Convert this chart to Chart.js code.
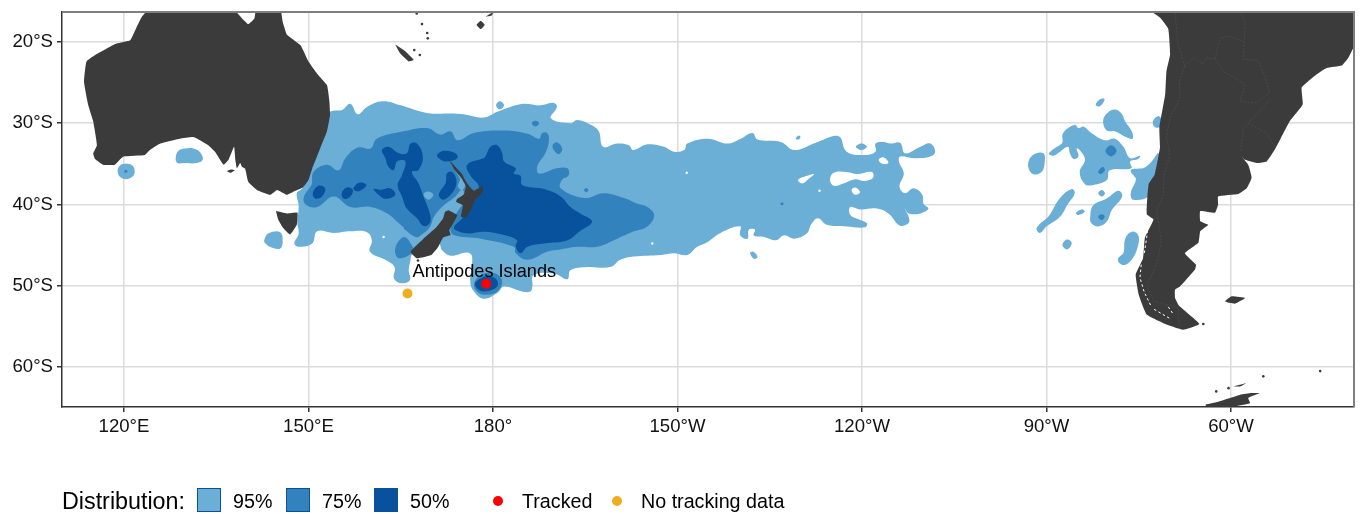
<!DOCTYPE html>
<html>
<head>
<meta charset="utf-8">
<title>Antipodes Islands distribution</title>
<script src="https://cdn.jsdelivr.net/npm/chart.js@4"></script>
<style>
html, body { margin: 0; background: #fff; overflow: hidden; }
#wrap { position: relative; width: 1361px; height: 514px; font-family: "Liberation Sans", Arial, sans-serif; color: #000; }
canvas { position: absolute; left: 0; top: 0; }
.lg { position: absolute; white-space: nowrap; line-height: 24px; height: 24px; top: 489px; font-size: 19.7px; }
.sw { position: absolute; top: 488px; width: 22px; height: 22px; border: 1.5px solid #08519c; }
.dot { position: absolute; top: 496px; width: 10px; height: 10px; border-radius: 50%; }
</style>
</head>
<body>
<div id="wrap">
<canvas id="map" width="1361" height="514"></canvas>
<div id="legend"></div>
</div>
<script>
// lon runs on past 180 so the Pacific stays in one piece (210 = 150W, 300 = 60W)
const lonTicks = [120, 150, 180, 210, 240, 270, 300];
const lonLabels = ['120°E', '150°E', '180°', '150°W', '120°W', '90°W', '60°W'];
const latTicks = [-60, -50, -40, -30, -20];
const latLabels = ['60°S', '50°S', '40°S', '30°S', '20°S'];

const tracked = [[178.9, -49.75]];
const noTracking = [[166.1, -50.95]];
const colonyName = 'Antipodes Islands';
const colonyLabelAt = [178.6, -48.3];

const legendTitle = 'Distribution:';
const levelLabels = ['95%', '75%', '50%'];
const levelColours = ['#6baed6', '#3182bd', '#08519c'];
const landColour = '#3b3b3b';

// 95% contour
const main95 = [[153.5,-28.6],[155.4,-28.4],[156.8,-27.6],[158.0,-28.9],[159.5,-28.0],[162.0,-27.3],[165.0,-27.8],[167.9,-28.5],[169.8,-28.8],[173.1,-28.8],[175.2,-28.9],[178.5,-29.3],[180.7,-28.6],[182.8,-28.0],[185.0,-27.6],[187.7,-27.8],[189.9,-27.5],[190.4,-28.0],[189.4,-29.4],[192.6,-30.0],[193.7,-29.6],[195.9,-30.2],[197.2,-31.0],[197.9,-32.9],[200.2,-32.5],[202.1,-32.7],[202.8,-33.3],[205.1,-32.6],[207.8,-32.9],[209.4,-33.5],[211.1,-33.3],[211.6,-32.5],[214.9,-31.9],[218.1,-32.5],[220.3,-31.9],[222.2,-31.2],[223.0,-32.0],[226.8,-32.3],[229.0,-33.3],[232.8,-32.3],[236.2,-31.6],[237.5,-33.5],[240.3,-33.9],[242.2,-33.5],[242.2,-32.5],[243.5,-32.3],[244.6,-32.5],[246.2,-32.4],[247.0,-33.7],[249.5,-32.9],[251.1,-32.5],[251.9,-33.5],[251.1,-34.1],[248.4,-34.3],[246.2,-34.1],[246.0,-34.7],[246.8,-36.2],[246.1,-37.8],[247.0,-38.6],[248.4,-38.0],[249.8,-38.8],[250.0,-39.9],[250.8,-40.5],[249.5,-41.1],[247.6,-41.1],[247.0,-40.5],[247.7,-42.1],[246.2,-42.6],[244.3,-41.1],[242.4,-40.5],[239.7,-40.6],[238.1,-40.3],[238.1,-41.3],[239.7,-41.9],[240.8,-42.3],[240.5,-42.8],[237.5,-42.7],[234.3,-42.5],[232.8,-41.7],[231.7,-42.5],[231.1,-43.5],[229.0,-44.2],[227.3,-43.8],[226.0,-44.4],[224.1,-44.0],[222.4,-43.8],[222.6,-43.1],[221.6,-43.1],[221.4,-44.2],[220.2,-43.8],[220.2,-42.7],[217.0,-43.5],[214.9,-44.6],[213.2,-45.2],[211.6,-46.2],[209.4,-46.0],[207.3,-46.2],[202.9,-46.4],[200.7,-46.8],[199.1,-47.7],[195.3,-47.7],[192.6,-48.1],[192.1,-49.2],[189.9,-48.5],[186.6,-48.7],[186.4,-50.1],[186.1,-50.7],[184.7,-50.7],[181.8,-50.1],[180.7,-50.9],[178.5,-51.6],[176.9,-50.7],[176.3,-49.5],[176.6,-46.4],[175.8,-45.9],[173.1,-46.3],[171.7,-45.6],[171.2,-44.8],[169.3,-45.6],[166.8,-46.2],[166.6,-46.8],[166.3,-48.1],[166.5,-49.3],[165.2,-49.7],[163.9,-49.1],[164.0,-47.7],[162.5,-46.8],[160.0,-45.8],[160.3,-44.4],[159.5,-43.4],[156.8,-43.3],[154.1,-43.5],[151.4,-43.3],[150.6,-44.8],[148.4,-45.2],[147.7,-44.8],[148.4,-43.6],[148.2,-42.3],[148.4,-40.1],[148.1,-38.6],[149.0,-38.0],[150.0,-36.0],[151.9,-32.5],[153.0,-29.6]];
const bight95 = [[128.4,-34.3],[128.85,-33.4],[129.9,-33.1],[131.3,-33.1],[132.4,-33.6],[132.8,-34.5],[131.8,-34.9],[129.7,-34.9],[128.7,-34.9]];
const capeLeeuwin95 = [[118.97,-35.9],[119.35,-35.2],[120.3,-35.0],[121.36,-35.2],[121.74,-35.9],[121.36,-36.6],[120.3,-36.9],[119.35,-36.6]];
const tasWest95 = [[142.8,-44.4],[143.5,-43.55],[145.4,-43.4],[145.8,-44.6],[145.4,-45.4],[144.0,-45.3],[143.0,-44.8]];
const north95 = [[180.5,-27.8],[181.1,-27.3],[181.8,-27.8],[181.1,-28.3]];
const south95 = [[221.8,-46.0],[222.3,-45.8],[223.0,-46.4],[222.5,-46.7]];
const fleck95 = [[229.2,-31.9],[229.7,-31.5],[230.0,-31.7],[229.7,-32.0]];
const oval95 = [[239.0,-32.9],[239.9,-32.5],[240.8,-32.9],[239.9,-33.3]];
const east95a = [[270.4,-33.7],[272.5,-32.5],[272.7,-31.2],[274.6,-30.2],[275.2,-30.6],[276.0,-30.4],[277.3,-31.2],[279.5,-32.1],[281.1,-31.9],[282.5,-32.9],[283.6,-34.3],[285.2,-34.0],[284.9,-34.4],[283.6,-34.7],[283.8,-35.55],[280.3,-35.8],[279.8,-37.0],[277.6,-37.6],[276.25,-37.5],[275.4,-36.0],[276.25,-34.5],[275.4,-33.3],[274.9,-33.1],[275.2,-34.1],[274.4,-34.4],[273.8,-33.7],[273.5,-32.9],[272.2,-33.5],[271.1,-34.0]];
const east95b = [[279.2,-29.8],[279.8,-28.8],[281.1,-28.3],[282.2,-28.8],[282.8,-29.8],[283.85,-31.0],[284.0,-31.9],[282.8,-31.65],[281.1,-31.0],[279.8,-30.9]];
const east95c = [[278.0,-27.75],[278.7,-27.05],[279.45,-27.05],[278.7,-27.9]];
const east95d = [[267.0,-35.1],[267.8,-33.9],[269.5,-33.7],[269.7,-34.9],[269.2,-36.0],[267.8,-36.25]];
const east95e = [[287.3,-29.8],[288.2,-29.1],[288.7,-29.6],[288.5,-30.4],[287.65,-30.5]];
const east95f = [[283.7,-35.8],[285.7,-35.55],[287.1,-34.7],[288.2,-33.7],[288.2,-35.8],[286.6,-37.8],[286.6,-39.0],[284.1,-39.4],[283.7,-38.6],[284.55,-36.8]];
const east95g = [[268.4,-42.9],[270.3,-41.5],[272.2,-39.2],[274.1,-38.1],[274.6,-38.6],[273.5,-39.9],[272.2,-41.5],[270.0,-42.7],[268.9,-43.5]];
const east95h = [[274.8,-41.0],[275.7,-40.6],[276.2,-40.9],[275.2,-41.3]];
const east95i = [[278.4,-38.6],[279.0,-38.2],[279.5,-38.6],[279.0,-39.0]];
const east95j = [[277.1,-41.7],[277.6,-40.1],[279.8,-39.25],[281.7,-38.3],[282.3,-39.0],[280.6,-40.7],[279.8,-42.1],[278.4,-42.7],[277.3,-42.3]];
const east95k = [[272.6,-45.0],[273.3,-44.3],[274.1,-44.7],[273.4,-45.5]];
const east95l = [[281.6,-46.8],[282.5,-46.0],[282.8,-44.2],[283.85,-43.35],[284.9,-43.75],[284.9,-45.0],[283.85,-46.8],[282.5,-47.45]];

// gaps in the 95% contour
const gapA = [[242.7,-34.5],[243.5,-34.2],[244.3,-34.9],[243.3,-35.0]];
const gapB = [[234.8,-37.0],[235.4,-36.1],[237.5,-36.0],[239.2,-36.25],[241.6,-36.0],[241.8,-36.7],[240.3,-37.1],[238.9,-36.9],[237.0,-37.4],[235.4,-37.7]];
const gapC = [[229.6,-37.0],[230.9,-36.5],[232.2,-36.25],[231.4,-36.8],[230.3,-37.4]];
const gapD = [[238.3,-38.2],[238.9,-37.9],[239.7,-38.5],[238.9,-38.8]];
const gapDots = [[233.1,-38.3],[205.9,-44.8],[211.5,-36.1],[162.2,-44.0]];

// 75% contour
const main75 = [[149.2,-39.2],[150.5,-37.6],[150.8,-36.0],[153.0,-35.1],[154.9,-35.8],[156.0,-34.3],[158.0,-33.0],[160.1,-33.1],[161.1,-31.9],[165.5,-31.0],[169.3,-30.6],[171.4,-31.4],[173.1,-31.0],[174.2,-32.1],[176.9,-31.2],[181.8,-30.9],[185.6,-31.3],[187.5,-31.9],[188.0,-31.2],[188.8,-31.2],[189.1,-32.1],[188.5,-33.7],[187.2,-35.3],[187.5,-36.2],[190.4,-35.55],[192.1,-35.55],[192.3,-36.4],[191.2,-37.0],[191.0,-38.0],[194.8,-39.2],[198.0,-38.6],[201.3,-39.2],[203.5,-39.9],[205.1,-40.3],[206.2,-41.3],[205.1,-42.7],[202.9,-43.3],[200.2,-44.2],[196.9,-45.2],[193.7,-45.2],[190.4,-45.6],[188.8,-45.8],[185.6,-46.8],[183.7,-46.0],[183.4,-45.2],[178.0,-44.2],[173.6,-43.75],[173.1,-42.9],[173.9,-41.3],[175.0,-40.1],[175.8,-39.45],[175.0,-38.2],[173.9,-39.0],[172.0,-40.1],[170.4,-41.5],[169.8,-42.7],[168.7,-43.55],[167.4,-44.0],[164.7,-42.3],[162.8,-41.1],[160.1,-40.3],[156.8,-40.3],[154.1,-39.0],[151.4,-40.3],[149.7,-40.1]];
const stewart75 = [[164.1,-45.4],[165.5,-44.0],[166.8,-45.0],[167.0,-45.8],[164.7,-46.6]];
const fleck75 = [[165.5,-42.9],[165.9,-42.65],[166.2,-42.9],[165.9,-43.2]];
const oval75 = [[189.7,-32.7],[190.4,-32.35],[191.25,-33.1],[190.7,-33.8],[189.9,-33.3]];
const north75 = [[186.3,-30.0],[186.9,-29.7],[187.5,-30.0],[186.9,-30.4]];
const east75Fleck = [[194.8,-38.2],[195.2,-37.97],[195.5,-38.2],[195.2,-38.5]];
const east75a = [[279.6,-33.4],[280.5,-32.7],[281.4,-33.4],[280.5,-34.1]];
const east75b = [[278.4,-36.0],[279.1,-35.4],[279.5,-35.75],[278.8,-36.25]];
const east75c = [[278.4,-41.5],[279.0,-41.2],[279.45,-41.5],[279.0,-41.9]];
const colony75 = [[176.9,-49.9],[177.7,-48.9],[179.05,-48.4],[180.7,-48.6],[181.5,-49.5],[180.7,-50.7],[179.05,-51.1],[177.7,-50.9]];
const dots75 = [[227.0,-39.9],[120.3,-35.9]];

// 50% contour
const main50 = [[175.8,-35.1],[178.5,-34.3],[179.6,-32.9],[180.7,-32.7],[181.5,-33.7],[181.8,-34.7],[183.7,-35.55],[183.4,-36.2],[184.5,-36.5],[184.75,-37.6],[188.3,-38.1],[191.0,-39.0],[192.6,-40.3],[194.2,-41.1],[196.1,-42.1],[194.0,-43.35],[192.1,-44.4],[188.3,-44.8],[185.6,-45.2],[184.5,-46.0],[183.7,-45.2],[183.9,-44.4],[181.8,-43.75],[178.5,-43.35],[175.8,-43.55],[173.9,-43.15],[173.7,-42.7],[175.0,-41.7],[176.9,-39.45],[177.7,-37.8],[176.3,-36.4]];
const tasman50 = [[161.95,-33.3],[163.0,-32.9],[164.7,-33.7],[166.0,-33.7],[166.6,-32.5],[167.65,-32.5],[168.6,-34.1],[167.9,-35.75],[166.8,-36.0],[167.9,-37.4],[168.7,-39.0],[169.8,-41.3],[169.7,-42.3],[168.7,-42.65],[167.65,-41.7],[166.0,-40.5],[165.2,-39.0],[164.5,-37.6],[165.2,-36.4],[165.75,-34.7],[164.4,-34.7],[163.85,-35.75],[163.0,-35.35],[162.5,-34.3]];
const capeReinga50 = [[170.9,-33.9],[172.0,-33.4],[173.9,-33.7],[174.2,-34.3],[172.3,-34.7],[171.2,-34.3]];
const taranaki50 = [[171.2,-38.8],[172.3,-37.4],[172.5,-36.2],[173.35,-36.0],[174.05,-37.0],[173.7,-38.2],[172.0,-39.4]];
const westA50 = [[150.7,-38.6],[151.6,-37.7],[152.7,-38.0],[152.2,-39.0],[151.1,-39.25]];
const westB50 = [[155.4,-38.6],[156.25,-37.9],[157.2,-38.2],[156.8,-39.0],[155.8,-39.3]];
const westC50 = [[157.3,-38.0],[158.3,-37.3],[159.4,-37.6],[158.4,-38.3],[157.6,-38.3]];
const westD50 = [[160.6,-38.1],[161.7,-38.2],[163.3,-38.0],[164.1,-38.8],[162.5,-39.3],[161.4,-38.8]];
const colony50 = [[177.1,-49.7],[178.0,-49.1],[179.05,-48.8],[180.4,-49.1],[180.8,-49.9],[179.9,-50.5],[178.5,-50.7],[177.5,-50.4]];

// lighter patches sitting inside the 75% area
const patchA = [[168.7,-38.8],[169.4,-38.4],[170.3,-38.8],[169.55,-39.4]];
const patchB = [[173.7,-35.55],[175.5,-37.0],[175.1,-38.2],[174.3,-37.8],[174.6,-36.8]];

// land
const australia = [[122.9,-16.9],[124.0,-16],[137.8,-16],[139.2,-17.1],[140.2,-17.8],[141.2,-17.1],[141.5,-16],[145.4,-16],[145.8,-17.5],[146.5,-19.1],[148.7,-20.4],[150.0,-22.4],[151.4,-23.9],[153.0,-25.3],[153.4,-27.3],[153.5,-29.0],[153.0,-31.0],[151.9,-33.1],[150.6,-35.6],[150.0,-37.0],[149.1,-37.9],[147.6,-38.4],[146.5,-38.8],[144.9,-38.2],[143.8,-38.8],[141.6,-38.2],[140.2,-37.2],[139.7,-35.6],[139.2,-35.4],[138.9,-34.9],[138.35,-35.55],[138.1,-34.5],[137.9,-32.9],[137.0,-34.5],[136.2,-35.1],[134.8,-33.5],[133.7,-32.7],[131.3,-31.7],[129.1,-31.9],[125.9,-32.5],[124.2,-33.3],[123.4,-33.9],[119.9,-34.1],[118.5,-35.1],[116.6,-35.1],[115.3,-34.4],[115.0,-33.7],[115.6,-32.7],[115.0,-29.8],[114.2,-27.8],[113.5,-24.9],[113.9,-22.4],[115.3,-21.6],[117.2,-20.8],[118.8,-20.2],[121.0,-19.8],[122.1,-18.1]];
const kangaroo = [[136.7,-35.9],[137.4,-35.7],[138.0,-35.8],[137.4,-36.1]];
const tasmania = [[144.7,-40.8],[146.5,-41.1],[148.2,-41.0],[148.1,-42.5],[147.0,-43.7],[145.9,-42.9],[145.1,-41.9]];
const northIsland = [[172.85,-34.5],[173.8,-35.3],[174.9,-36.2],[175.8,-37.4],[176.9,-38.3],[178.4,-37.7],[178.2,-38.6],[177.1,-39.4],[176.4,-40.6],[175.6,-41.6],[174.8,-41.5],[175.1,-40.1],[174.0,-39.65],[174.2,-39.3],[175.2,-38.8],[175.6,-37.8],[174.9,-36.8],[173.8,-35.8]];
const southIsland = [[172.75,-40.7],[174.2,-41.3],[173.7,-42.1],[172.9,-43.15],[173.1,-43.75],[171.9,-44.05],[171.1,-45.2],[170.0,-46.2],[167.6,-46.6],[166.6,-45.8],[168.7,-44.2],[170.8,-42.8],[171.9,-41.7],[172.2,-40.9]];
const newCaledonia = [[164.1,-20.3],[165.5,-21.0],[167.1,-22.2],[166.3,-22.4],[164.9,-21.4]];
const fiji = [[177.3,-17.9],[178.0,-17.4],[178.65,-17.9],[178.0,-18.4]];
const vanuaLevu = [[178.8,-16.9],[180.0,-16.35],[179.85,-16.7]];
const southAmerica = [[286.56,-16],[320.5,-16],[320.1,-20.3],[319.1,-21.9],[318.0,-22.9],[315.55,-23.2],[313.9,-24.0],[311.5,-25.6],[311.65,-27.7],[309.6,-29.7],[308.0,-32.0],[307.0,-33.4],[305.8,-34.7],[304.2,-34.9],[302.3,-34.5],[301.7,-34.05],[302.8,-35.1],[303.35,-36.7],[302.55,-38.0],[301.2,-38.7],[297.9,-39.0],[297.9,-40.0],[297.4,-41.0],[295.0,-40.8],[295.0,-42.05],[296.3,-42.5],[295.0,-43.3],[294.7,-44.7],[292.5,-46.0],[294.3,-47.4],[294.15,-48.0],[291.7,-50.1],[290.9,-50.5],[290.9,-51.5],[291.6,-52.5],[294.85,-54.7],[292.25,-55.4],[289.0,-54.6],[286.3,-53.55],[285.0,-51.1],[284.5,-48.6],[285.7,-46.6],[286.0,-44.1],[287.4,-41.85],[286.3,-41.2],[286.6,-37.5],[287.6,-36.3],[288.45,-33.0],[288.35,-30.55],[289.3,-26.45],[289.5,-23.6],[290.1,-21.5],[289.8,-18.4],[288.45,-17.0]];
const falklands = [[299.0,-51.9],[300.1,-51.3],[302.3,-51.5],[300.65,-52.2],[299.6,-52.1]];
const antarctica = [[295.9,-64.6],[298.2,-64.2],[301.5,-63.4],[303.35,-63.2],[304.7,-63.2],[302.8,-63.8],[303.1,-64.45],[300.4,-64.85],[295.9,-65.2]];
const shetlands = [[300.4,-62.4],[302.4,-62.0],[301.5,-62.4]];
const tinyIslands = [[167.6,-16.5],[168.45,-17.8],[169.3,-18.9],[169.4,-19.55],[168.1,-21.6],[167.2,-21.0],[167.8,-46.9],[299.6,-62.6],[305.25,-61.15],[314.5,-60.5],[295.5,-54.7],[297.6,-63.0]];

// country borders in South America
const borderChile = [[292.5,-23.0],[291.6,-24.8],[291.7,-26.9],[290.1,-29.3],[289.5,-31.8],[290.1,-33.8],[289.0,-36.7],[289.0,-38.8],[287.9,-40.8],[288.7,-44.5],[287.9,-47.4],[286.3,-49.9],[287.4,-51.9],[291.4,-52.7],[291.6,-55.0]];
const borderPeru = [[290.9,-16],[291.3,-19.9],[292.5,-23.0]];
const borderParaguay = [[292.5,-23.0],[293.9,-21.9],[295.5,-22.75],[296.0,-22.0],[297.4,-22.1],[298.75,-23.6],[302.3,-25.2],[301.5,-27.3],[304.2,-27.5],[306.3,-26.2],[305.5,-24.2],[304.4,-22.3],[302.0,-22.1],[302.3,-17.8],[301.5,-16]];
const borderBolivia = [[297.4,-22.1],[298.2,-19.5],[299.8,-19.3],[302.0,-19.9]];
const borderUruguay = [[306.3,-27.1],[302.8,-30.0],[302.1,-30.55],[301.6,-33.4]];
const borderBrazil = [[302.8,-30.0],[305.8,-31.2],[307.15,-33.0]];

// white channels along the Chilean coast
const fjordsA = [[285.4,-47.4],[285.2,-49.0],[285.9,-50.8],[287.0,-52.5]];
const fjordsB = [[287.5,-52.9],[290.0,-54.0]];
const fjordsC = [[289.8,-52.6],[290.7,-53.6]];
const fjordsD = [[286.6,-42.0],[286.3,-44.0],[285.9,-46.0]];

function shape(points, colour, smooth) {
    // on smooth shapes run one point past each end so the seam gets rounded too
    const data = smooth
        ? [points[points.length - 1], ...points, points[0], points[1]]
        : points.concat([points[0]]);
    return {
        data: data,
        showLine: true,
        fill: 'shape',
        backgroundColor: colour,
        borderWidth: 0,
        pointRadius: 0,
        tension: smooth ? 0.4 : 0.12
    };
}

function line(points, colour, width, dash) {
    return {
        data: points,
        showLine: true,
        fill: false,
        borderColor: colour,
        borderWidth: width,
        borderDash: dash || [],
        pointRadius: 0
    };
}

function dots(points, colour, radius) {
    return {
        data: points,
        showLine: false,
        backgroundColor: colour,
        borderWidth: 0,
        pointRadius: radius
    };
}

const [c95, c75, c50] = levelColours;

// listed bottom to top, reversed below because Chart.js paints the first dataset last
const paintOrder = [
    ...[main95, bight95, capeLeeuwin95, tasWest95, north95, south95, fleck95, oval95, east95a, east95b, east95c, east95d, east95e, east95f, east95g, east95h, east95i, east95j, east95k, east95l].map(p => shape(p, c95, true)),
    ...[gapA, gapB, gapC, gapD].map(p => shape(p, '#ffffff', true)),
    dots(gapDots, '#ffffff', 1.2),
    ...[main75, stewart75, fleck75, oval75, north75, east75Fleck, east75a, east75b, east75c, colony75].map(p => shape(p, c75, true)),
    dots(dots75, c75, 1.5),
    ...[patchA, patchB].map(p => shape(p, c95, true)),
    ...[main50, tasman50, capeReinga50, taranaki50, westA50, westB50, westC50, westD50, colony50].map(p => shape(p, c50, true)),
    ...[australia, kangaroo, tasmania, northIsland, southIsland, newCaledonia, fiji, vanuaLevu, southAmerica, falklands, antarctica, shetlands].map(p => shape(p, landColour, false)),
    dots(tinyIslands, landColour, 1.3),
    ...[borderChile, borderPeru, borderParaguay, borderBolivia, borderUruguay, borderBrazil].map(p => line(p, '#535353', 0.6, [2, 1.5])),
    ...[fjordsA, fjordsB, fjordsC, fjordsD].map(p => line(p, '#ffffff', 1, [2.5, 2.5])),
    dots(noTracking, '#efae22', 5),
    dots(tracked, '#ff0000', 5)
];

const panelFrame = {
    id: 'panelFrame',
    afterDatasetsDraw(chart) {
        const { ctx, chartArea: a, scales } = chart;
        ctx.save();
        ctx.strokeStyle = '#7f7f7f';
        ctx.lineWidth = 2;
        ctx.beginPath();
        ctx.moveTo(a.left, a.top);
        ctx.lineTo(a.right, a.top);
        ctx.lineTo(a.right, a.bottom);
        ctx.stroke();
        ctx.fillStyle = '#000';
        ctx.font = '18.2px "Liberation Sans", Arial, sans-serif';
        ctx.textAlign = 'center';
        ctx.textBaseline = 'middle';
        ctx.fillText(colonyName, scales.x.getPixelForValue(colonyLabelAt[0]), scales.y.getPixelForValue(colonyLabelAt[1]));
        ctx.restore();
    }
};

function axisOptions(values, labels, min, max, fit) {
    return {
        type: 'linear',
        min: min,
        max: max,
        afterBuildTicks: scale => { scale.ticks = values.map(v => ({ value: v })); },
        afterFit: scale => {
            fit(scale);
            scale.paddingTop = scale.paddingBottom = scale.paddingLeft = scale.paddingRight = 0;
        },
        grid: { color: '#dcdcdc', lineWidth: 1.5, tickColor: '#333333', tickLength: 5, tickWidth: 1.5 },
        border: { color: '#333333', width: 1.5 },
        ticks: {
            autoSkip: false,
            maxRotation: 0,
            color: '#111111',
            padding: 4,
            font: { family: '"Liberation Sans", Arial, sans-serif', size: 18.6 },
            callback: (v) => labels[values.indexOf(v)]
        }
    };
}

new Chart(document.getElementById('map'), {
    type: 'scatter',
    data: { datasets: paintOrder.reverse() },
    options: {
        responsive: false,
        animation: false,
        layout: { padding: { top: 12, right: 7 } },
        plugins: { legend: { display: false }, tooltip: { enabled: false } },
        scales: {
            x: axisOptions(lonTicks, lonLabels, 109.92, 320, s => { s.height = 107; }),
            y: axisOptions(latTicks, latLabels, -64.92, -16.31, s => { s.width = 62; })
        }
    },
    plugins: [panelFrame]
});

function addLegend() {
    const box = document.getElementById('legend');
    const put = (cls, left, text, colour) => {
        const el = document.createElement('div');
        el.className = cls;
        el.style.left = left + 'px';
        if (text) el.textContent = text;
        if (colour) el.style.background = colour;
        box.appendChild(el);
        return el;
    };
    put('lg', 62, legendTitle).style.fontSize = '23.3px';
    [197, 286, 374].forEach((x, i) => {
        put('sw', x, '', levelColours[i]);
        put('lg', x + 36, levelLabels[i]);
    });
    put('dot', 493, '', '#ff0000');
    put('lg', 522, 'Tracked');
    put('dot', 612, '', '#efae22');
    put('lg', 641, 'No tracking data');
}
addLegend();
</script>
</body>
</html>
